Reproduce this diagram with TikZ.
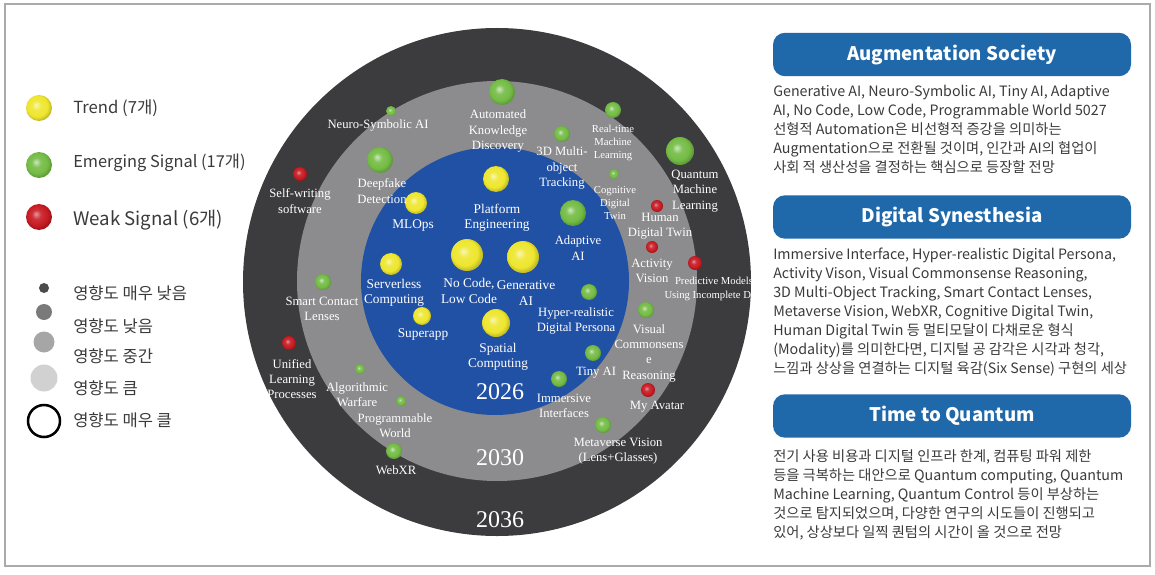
\documentclass[tikz,border=0pt]{standalone}
\usepackage{fontspec}
\setmainfont{Liberation Serif}
\newfontfamily\krfont{Noto Sans CJK KR}
\usetikzlibrary{positioning}
\definecolor{tYel}{HTML}{EEE62E}
\definecolor{tGrn}{HTML}{74BC45}
\definecolor{tRed}{HTML}{C81A22}
\definecolor{ringDark}{HTML}{3C3C3E}
\definecolor{ringMid}{HTML}{8C8C8E}
\definecolor{ringBlue}{HTML}{2151A5}
\definecolor{hBlue}{HTML}{1F68AA}
\definecolor{bodyGray}{HTML}{3A3A3A}
\definecolor{frameGray}{HTML}{AAAAAA}
\pgfdeclareradialshading{orbY}{\pgfpoint{-6bp}{6bp}}{color(0bp)=(tYel!35!white); color(9bp)=(tYel!90!white); color(20bp)=(tYel); color(29bp)=(tYel!75!black); color(50bp)=(tYel!75!black)}
\pgfdeclareradialshading{orbG}{\pgfpoint{-6bp}{6bp}}{color(0bp)=(tGrn!35!white); color(9bp)=(tGrn!90!white); color(20bp)=(tGrn); color(29bp)=(tGrn!75!black); color(50bp)=(tGrn!75!black)}
\pgfdeclareradialshading{orbR}{\pgfpoint{-6bp}{6bp}}{color(0bp)=(tRed!45!white); color(9bp)=(tRed!90!white); color(20bp)=(tRed); color(29bp)=(tRed!70!black); color(50bp)=(tRed!70!black)}

\begin{document}
\begin{tikzpicture}[x=0.75pt, y=-0.75pt,
  ring/.style={circle, inner sep=0pt, minimum size=#1*1.5pt},
  tball/.style={circle, inner sep=0pt, minimum size=#1*1.5pt, shading=orbY},
  gball/.style={circle, inner sep=0pt, minimum size=#1*1.5pt, shading=orbG},
  rball/.style={circle, inner sep=0pt, minimum size=#1*1.5pt, shading=orbR},
  dot/.style={circle, inner sep=0pt, minimum size=#1*1.5pt},
  lbl/.style={text=white, align=center, inner sep=0pt, font=\fontsize{9.5}{11.5}\selectfont},
  slbl/.style={lbl, font=\fontsize{8}{10}\selectfont},
  ylbl/.style={lbl, font=\fontsize{10}{11.5}\selectfont},
  yr/.style={text=white, inner sep=0pt, font=\fontsize{18}{18}\selectfont},
  hdr/.style={fill=hBlue, rounded corners=9pt, text=white, minimum width=268.5pt,
              minimum height=32.6pt, font=\krfont\bfseries\fontsize{14}{16}\selectfont},
  body/.style={anchor=north west, align=left, inner sep=0pt, text=bodyGray,
               font=\krfont\fontsize{10.7}{14.25}\selectfont},
  lgd/.style={anchor=west, inner sep=0pt, text=bodyGray, font=\krfont\fontsize{12.4}{14}\selectfont},
]
  \useasboundingbox (0,0) rectangle (1155,574);
  \draw[frameGray, line width=1.1pt] (5,4) rectangle (1150,566);

  % legend
  \node[tball=13] (lgT) at (39,108) {};
  \node[gball=13] (lgE) at (39,165) {};
  \node[rball=13] (lgW) at (39,217) {};
  \node[lgd, font=\krfont\fontsize{12.5}{15}\selectfont] (lgTt) at (73,108) {Trend (7개)};
  \node[lgd, font=\krfont\fontsize{12.3}{15}\selectfont] (lgEt) at (73,163) {Emerging Signal (17개)};
  \node[lgd, font=\krfont\fontsize{14}{17}\selectfont] (lgWt) at (73,220) {Weak Signal (6개)};
  \node[dot=5, fill=black!70] (sz1) at (44,288) {};
  \node[dot=8, fill=black!52] (sz2) at (44,312) {};
  \node[dot=10.5, fill=black!35] (sz3) at (44,342) {};
  \node[dot=13.5, fill=black!18] (sz4) at (44,378) {};
  \node[dot=16, draw=black, line width=1.9pt] (sz5) at (44,421) {};
  \node[lgd] (sz1t) at (73,293) {영향도 매우 낮음};
  \node[lgd] (sz2t) at (73,326) {영향도 낮음};
  \node[lgd] (sz3t) at (73,356) {영향도 중간};
  \node[lgd] (sz4t) at (73,388) {영향도 큼};
  \node[lgd] (sz5t) at (73,420) {영향도 매우 클};

  % rings
  \node[ring=254, fill=ringDark] (r36) at (497,282) {};
  \node[ring=200, fill=ringMid] (r30) at (497,281) {};
  \node[ring=134, fill=ringBlue] (r26) at (495,281) {};
  \node[yr] (y26) at (500,392) {2026};
  \node[yr] (y30) at (500,458) {2030};
  \node[yr] (y36) at (500,520) {2036};

  % 2026
  \node[tball=13] (plat) at (496,179) {};
  \node[tball=11] (mlops) at (416,203) {};
  \node[tball=16] (nocode) at (467,255) {};
  \node[tball=16] (gen) at (523,257) {};
  \node[tball=11] (serv) at (391,264) {};
  \node[tball=9] (super) at (422,316) {};
  \node[tball=14] (spat) at (496,323) {};
  \node[gball=13] (adapt) at (573,213) {};
  \node[gball=8] (hyper) at (589,292) {};
  \node[gball=8] (tiny) at (593,353) {};
  \node[ylbl] (lbPlat) at (497,218) {Platform\\Engineering};
  \node[ylbl] (lbMlops) at (413,226) {MLOps};
  \node[ylbl] (lbNocode) at (469,291) {No Code,\\Low Code};
  \node[ylbl] (lbGen) at (526,293) {Generative\\AI};
  \node[ylbl] (lbServ) at (394,293) {Serverless\\Computing};
  \node[ylbl] (lbSuper) at (423,335) {Superapp};
  \node[ylbl] (lbSpat) at (498,357) {Spatial\\Computing};
  \node[lbl] (lbAdapt) at (578,248) {Adaptive\\AI};
  \node[lbl] (lbHyper) at (576,321) {Hyper-realistic\\Digital Persona};
  \node[lbl] (lbTiny) at (596,373) {Tiny AI};

  % 2030
  \node[gball=5] (neuro) at (391,111) {};
  \node[gball=13] (akd) at (502,92) {};
  \node[gball=13] (deep) at (380,160) {};
  \node[gball=8] (mot) at (562,134) {};
  \node[gball=8] (rtml) at (613,110) {};
  \node[gball=5] (cdt) at (614,174) {};
  \node[gball=8] (smart) at (323,282) {};
  \node[gball=5] (algo) at (360,369) {};
  \node[gball=5] (prog) at (401,401) {};
  \node[gball=8] (webxr) at (394,451) {};
  \node[gball=8] (vcs) at (646,310) {};
  \node[gball=8] (imm) at (559,379) {};
  \node[gball=8] (meta) at (603,425) {};
  \node[rball=6] (hdt) at (657,206) {};
  \node[rball=6] (actv) at (652,247) {};
  \node[rball=7] (myav) at (648,390) {};
  \node[lbl] (lbNeuro) at (378,125) {Neuro-Symbolic AI};
  \node[lbl] (lbAkd) at (498,131) {Automated\\Knowledge\\Discovery};
  \node[lbl] (lbDeep) at (382,191) {Deepfake\\Detection};
  \node[lbl] (lbMot) at (562,168) {3D Multi-\\object\\Tracking};
  \node[slbl] (lbRtml) at (613,143) {Real-time\\Machine\\Learning};
  \node[slbl] (lbCdt) at (615,203) {Cognitive\\Digital\\Twin};
  \node[lbl] (lbSmart) at (322,309) {Smart Contact\\Lenses};
  \node[lbl] (lbAlgo) at (357,395) {Algorithmic\\Warfare};
  \node[lbl] (lbProg) at (395,426) {Programmable\\World};
  \node[lbl] (lbWebxr) at (396,470) {WebXR};
  \node[lbl] (lbVcs) at (649,353) {Visual\\Commonsens\\e\\Reasoning};
  \node[lbl] (lbImm) at (564,406) {Immersive\\Interfaces};
  \node[lbl] (lbMeta) at (618,451) {Metaverse Vision\\(Lens+Glasses)};
  \node[lbl] (lbHdt) at (660,226) {Human\\Digital Twin};
  \node[lbl] (lbActv) at (652,271) {Activity\\Vision};
  \node[lbl] (lbMyav) at (657,407) {My Avatar};

  % 2036
  \node[rball=7] (selfw) at (300,174) {};
  \node[rball=7] (unif) at (289,343) {};
  \node[gball=14] (qml) at (680,151) {};
  \node[rball=7] (pred) at (695,263) {};
  \node[lbl] (lbSelfw) at (300,201) {Self-writing\\software};
  \node[lbl] (lbUnif) at (292,379) {Unified\\Learning\\Processes};
  \node[lbl] (lbQml) at (695,191) {Quantum\\Machine\\Learning};
  \node[slbl] (lbPred) at (714,289) {Predictive Models\\Using Incomplete Data};

  % panels
  \node[hdr] (hAug) at (952,54.5) {Augmentation Society};
  \node[body] (tAug) at (773,85) {Generative AI, Neuro-Symbolic AI, Tiny AI, Adaptive\\
    AI, No Code, Low Code, Programmable World 5027\\
    선형적 Automation은 비선형적 증강을 의미하는\\
    Augmentation으로 전환될 것이며, 인간과 AI의 협업이\\
    사회 적 생산성을 결정하는 핵심으로 등장할 전망};
  \node[hdr] (hSyn) at (952,217) {Digital Synesthesia};
  \node[body] (tSyn) at (773,248) {Immersive Interface, Hyper-realistic Digital Persona,\\
    Activity Vison, Visual Commonsense Reasoning,\\
    3D Multi-Object Tracking, Smart Contact Lenses,\\
    Metaverse Vision, WebXR, Cognitive Digital Twin,\\
    Human Digital Twin 등 멀티모달이 다채로운 형식\\
    (Modality)를 의미한다면, 디지털 공 감각은 시각과 청각,\\
    느낌과 상상을 연결하는 디지털 육감(Six Sense) 구현의 세상};
  \node[hdr] (hQua) at (952,416) {Time to Quantum};
  \node[body] (tQua) at (773,449) {전기 사용 비용과 디지털 인프라 한계, 컴퓨팅 파워 제한\\
    등을 극복하는 대안으로 Quantum computing, Quantum\\
    Machine Learning, Quantum Control 등이 부상하는\\
    것으로 탐지되었으며, 다양한 연구의 시도들이 진행되고\\
    있어, 상상보다 일찍 퀀텀의 시간이 올 것으로 전망};
\end{tikzpicture}
\end{document}
